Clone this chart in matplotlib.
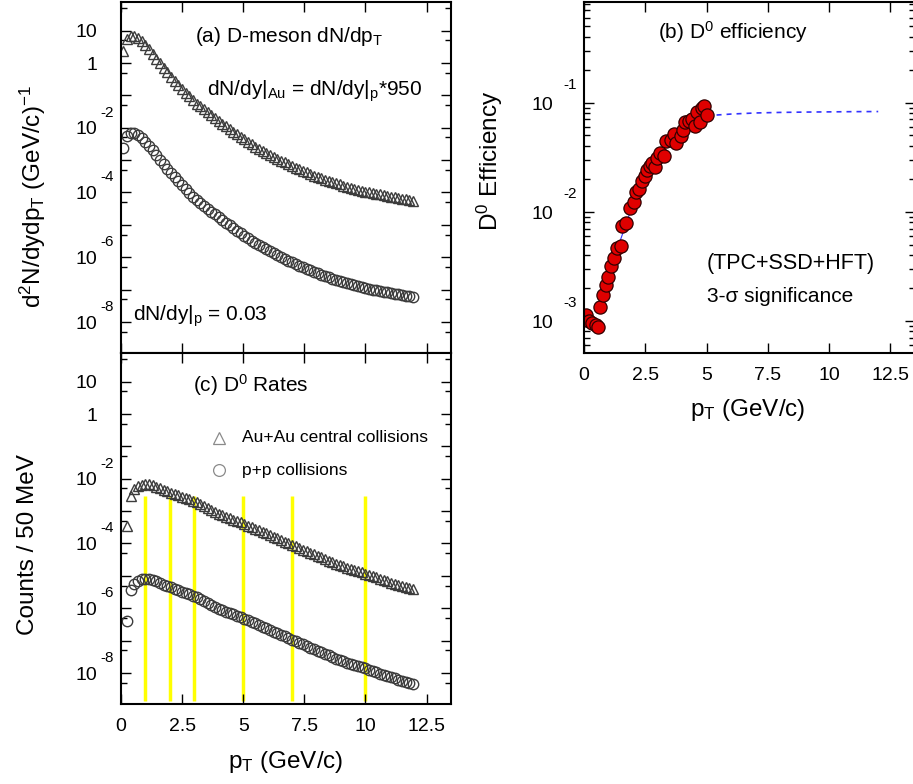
import matplotlib
matplotlib.use("Agg")
import matplotlib.pyplot as plt
import numpy as np
from matplotlib.ticker import FixedLocator, LogLocator, NullFormatter, NullLocator

plt.rcParams["font.family"] = ["Liberation Sans", "DejaVu Sans"]
plt.rcParams["mathtext.fontset"] = "custom"
plt.rcParams["mathtext.rm"] = "Liberation Sans"
plt.rcParams["mathtext.it"] = "Liberation Sans:italic"
plt.rcParams["mathtext.default"] = "regular"

W, H = 913, 784

# pT bin centres (GeV/c)
pt = [0.10, 0.25, 0.40, 0.55, 0.70, 0.85, 1.00, 1.15, 1.30, 1.45,
      1.60, 1.75, 1.90, 2.05, 2.20, 2.35, 2.50, 2.65, 2.80, 2.95,
      3.10, 3.25, 3.40, 3.55, 3.70, 3.85, 4.00, 4.15, 4.30, 4.45,
      4.60, 4.75, 4.90, 5.05, 5.20, 5.35, 5.50, 5.65, 5.80, 5.95,
      6.10, 6.25, 6.40, 6.55, 6.70, 6.85, 7.00, 7.15, 7.30, 7.45,
      7.60, 7.75, 7.90, 8.05, 8.20, 8.35, 8.50, 8.65, 8.80, 8.95,
      9.10, 9.25, 9.40, 9.55, 9.70, 9.85, 10.00, 10.15, 10.30, 10.45,
      10.60, 10.75, 10.90, 11.05, 11.20, 11.35, 11.50, 11.65, 11.80, 11.95]

# log10 of p+p d2N/dydpT, panel (a)
pp_spec_log = [-2.62, -2.25, -2.15, -2.15, -2.22, -2.31, -2.43, -2.56, -2.69, -2.84,
               -2.99, -3.13, -3.27, -3.40, -3.53, -3.65, -3.77, -3.89, -4.01, -4.13,
               -4.23, -4.32, -4.41, -4.50, -4.59, -4.68, -4.77, -4.85, -4.93, -5.01,
               -5.10, -5.18, -5.26, -5.34, -5.42, -5.49, -5.56, -5.63, -5.69, -5.75,
               -5.82, -5.88, -5.94, -6.00, -6.05, -6.11, -6.16, -6.21, -6.26, -6.31,
               -6.36, -6.41, -6.46, -6.50, -6.54, -6.58, -6.62, -6.66, -6.70, -6.73,
               -6.77, -6.80, -6.83, -6.86, -6.89, -6.92, -6.95, -6.97, -7.00, -7.02,
               -7.04, -7.07, -7.09, -7.11, -7.13, -7.15, -7.17, -7.19, -7.21, -7.23]
AU_SCALE = 950  # dN/dy|Au = dN/dy|p * 950

# log10 of p+p counts / 50 MeV, panel (c) (starts at second bin)
pp_rate_log = [-6.40, -5.45, -5.25, -5.15, -5.11, -5.09, -5.10, -5.13, -5.17,
               -5.22, -5.27, -5.32, -5.36, -5.40, -5.44, -5.49, -5.53, -5.57, -5.61,
               -5.66, -5.72, -5.78, -5.84, -5.90, -5.96, -6.01, -6.06, -6.11, -6.15,
               -6.19, -6.24, -6.28, -6.33, -6.38, -6.42, -6.47, -6.52, -6.57, -6.62,
               -6.67, -6.72, -6.77, -6.82, -6.87, -6.92, -6.97, -7.02, -7.07, -7.12,
               -7.17, -7.22, -7.27, -7.31, -7.36, -7.41, -7.46, -7.51, -7.56, -7.60,
               -7.64, -7.68, -7.72, -7.75, -7.79, -7.82, -7.86, -7.90, -7.94, -7.98,
               -8.02, -8.06, -8.10, -8.14, -8.17, -8.21, -8.24, -8.27, -8.30, -8.33]
AU_RATE_SCALE = 850

yellow_pt = [1, 2, 3, 5, 7, 10]
yellow_top, yellow_bottom = 2.9e-3, 1.4e-9

# D0 efficiency, panel (b)
eff_pt = [0.07, 0.20, 0.34, 0.50, 0.59, 0.64, 0.78, 0.89, 0.98, 1.09,
          1.21, 1.35, 1.49, 1.57, 1.73, 1.89, 2.03, 2.14, 2.25, 2.36,
          2.47, 2.57, 2.68, 2.79, 2.89, 2.98, 3.12, 3.26, 3.34, 3.53,
          3.66, 3.77, 3.94, 4.05, 4.13, 4.28, 4.41, 4.54, 4.60, 4.73,
          4.81, 4.89, 5.00]
eff_log = [-2.95, -3.00, -3.02, -3.04, -3.06, -2.87, -2.76, -2.67, -2.60, -2.50,
           -2.42, -2.33, -2.31, -2.13, -2.10, -1.97, -1.91, -1.82, -1.79, -1.72,
           -1.67, -1.62, -1.58, -1.55, -1.59, -1.51, -1.46, -1.49, -1.35, -1.34,
           -1.29, -1.37, -1.31, -1.25, -1.18, -1.17, -1.15, -1.21, -1.09, -1.18,
           -1.05, -1.03, -1.11]
fit_pt = [0.6, 1.0, 1.5, 2.0, 2.5, 3.0, 3.5, 4.0, 4.5, 5.0]
fit_log = [-2.87, -2.58, -2.25, -1.93, -1.68, -1.50, -1.35, -1.25, -1.17, -1.12]
ext_pt = [5, 6, 7, 8, 9, 10, 11, 12]
ext_log = [-1.12, -1.105, -1.095, -1.09, -1.087, -1.085, -1.083, -1.082]

GREY = "#3c3c3c"
TXT = 15
LAB = 17.5


def box(x0, y0, x1, y1):
    return [x0 / W, 1 - y1 / H, (x1 - x0) / W, (y1 - y0) / H]


def put(x, y, s, **kw):
    fig.text(x / W, 1 - y / H, s, **kw)


def root_ylabels(ax, exps, base_dx, exp_dx, base_dy, exp_dy):
    # ROOT style log labels: "10" with a detached exponent
    for k in exps:
        base = {1: "10", 0: "1"}.get(k, "10")
        ax.annotate(base, xy=(0, 10.0 ** k), xycoords=("axes fraction", "data"),
                    xytext=(base_dx, base_dy), textcoords="offset points",
                    ha="right", va="center", fontsize=14)
        if k not in (0, 1):
            ax.annotate(str(k), xy=(0, 10.0 ** k), xycoords=("axes fraction", "data"),
                        xytext=(exp_dx, exp_dy), textcoords="offset points",
                        ha="left", va="center", fontsize=11)


def style(ax, show_x):
    ax.set_xlim(0, 13.5)
    ax.set_yscale("log")
    ax.xaxis.set_major_locator(FixedLocator([0, 2.5, 5, 7.5, 10, 12.5]))
    ax.xaxis.set_minor_locator(NullLocator())
    ax.tick_params(which="both", direction="in", top=True, right=True,
                   labelleft=False, labelsize=14, pad=10, width=1.0)
    ax.tick_params(which="major", length=7)
    ax.tick_params(which="minor", length=4)
    ax.set_xticklabels(["0", "2.5", "5", "7.5", "10", "12.5"] if show_x else [])
    for sp in ax.spines.values():
        sp.set_linewidth(1.5)


fig = plt.figure(figsize=(W / 100, H / 100), dpi=100)
fig.patch.set_facecolor("white")

pt_arr = np.array(pt)
pp_spec = 10.0 ** np.array(pp_spec_log)
pp_rate = 10.0 ** np.array(pp_rate_log)
ylim_ac = (10 ** -8.96, 10 ** 1.885)
mk = dict(ls="none", mfc="none", mec=GREY, ms=7.5, mew=1.0)

# (a) spectra
ax_a = fig.add_axes(box(121, 2, 451, 353))
ax_a.plot(pt_arr, pp_spec * AU_SCALE, marker="^", **mk)
ax_a.plot(pt_arr, pp_spec, marker="o", **mk)
style(ax_a, False)
ax_a.set_ylim(*ylim_ac)
ax_a.yaxis.set_major_locator(FixedLocator([10.0 ** k for k in range(-9, 2)]))
ax_a.yaxis.set_minor_locator(FixedLocator([5 * 10.0 ** k for k in range(-10, 2)]))
ax_a.yaxis.set_minor_formatter(NullFormatter())
root_ylabels(ax_a, [1, 0, -2, -4, -6, -8], -17.3, -15.1, -1.5, 10.8)

# (c) rates
ax_c = fig.add_axes(box(121, 353, 451, 704))
ax_c.vlines(yellow_pt, yellow_bottom, yellow_top, color="#ffff00", lw=2.5, zorder=1)
ax_c.plot(pt_arr[1:], pp_rate * AU_RATE_SCALE, marker="^", zorder=2, **mk)
ax_c.plot(pt_arr[1:], pp_rate, marker="o", zorder=2, **mk)
ax_c.plot([4.0], [10 ** -0.74], marker="^", ls="none", mfc="none", mec="#8a8a8a", ms=8.5, mew=0.9)
ax_c.plot([4.0], [10 ** -1.73], marker="o", ls="none", mfc="none", mec="#8a8a8a", ms=8.5, mew=0.9)
style(ax_c, True)
ax_c.set_ylim(*ylim_ac)
ax_c.yaxis.set_major_locator(FixedLocator([10.0 ** k for k in range(-9, 2)]))
ax_c.yaxis.set_minor_locator(FixedLocator([5 * 10.0 ** k for k in range(-10, 2)]))
ax_c.yaxis.set_minor_formatter(NullFormatter())
root_ylabels(ax_c, [1, 0, -2, -4, -6, -8], -17.3, -15.1, -1.5, 10.8)

# (b) efficiency
ax_b = fig.add_axes(box(584, 2, 915, 353))
ax_b.plot(fit_pt, 10.0 ** np.array(fit_log), color="#3333ff", lw=0.8, zorder=1)
ax_b.plot(ext_pt, 10.0 ** np.array(ext_log), color="#3333ff", lw=1.2, ls=(0, (3, 3)), zorder=1)
ax_b.plot(eff_pt, 10.0 ** np.array(eff_log), ls="none", marker="o", mfc="#e00000",
          mec="#300000", ms=9.5, mew=0.9, zorder=2)
style(ax_b, True)
ax_b.set_ylim(10 ** -3.295, 10 ** -0.078)
ax_b.yaxis.set_major_locator(FixedLocator([1e-3, 1e-2, 1e-1]))
ax_b.yaxis.set_minor_locator(LogLocator(subs=np.arange(2, 10)))
ax_b.yaxis.set_minor_formatter(NullFormatter())
root_ylabels(ax_b, [-1, -2, -3], -22.3, -15.1, -2.2, 12.5)

# annotations
put(195, 37, r"(a) D-meson dN/dp$_T$", fontsize=TXT, va="center")
put(207, 91, r"dN/dy|$_{Au}$ = dN/dy|$_p$*950", fontsize=TXT, va="center")
put(133, 316, r"dN/dy|$_p$ = 0.03", fontsize=TXT, va="center")
put(193, 385, r"(c) D$^0$ Rates", fontsize=TXT, va="center")
put(242, 438, "Au+Au central collisions", fontsize=12.5, va="center")
put(242, 470, "p+p collisions", fontsize=12.5, va="center")
put(658, 32, r"(b) D$^0$ efficiency", fontsize=TXT, va="center")
put(707, 263, "(TPC+SSD+HFT)", fontsize=TXT + 0.5, va="center")
put(707, 296, "3-σ significance", fontsize=TXT, va="center")

put(33, 197, r"d$^2$N/dydp$_T$ (GeV/c)$^{-1}$", fontsize=LAB, rotation=90,
    ha="center", va="center")
put(28, 545, "Counts / 50 MeV", fontsize=LAB, rotation=90, ha="center", va="center")
put(490, 161, r"D$^0$ Efficiency", fontsize=LAB, rotation=90, ha="center", va="center")
put(286, 762, r"p$_T$ (GeV/c)", fontsize=LAB, ha="center", va="center")
put(748, 410, r"p$_T$ (GeV/c)", fontsize=LAB, ha="center", va="center")

fig.savefig("out.png", dpi=100, facecolor="white")
